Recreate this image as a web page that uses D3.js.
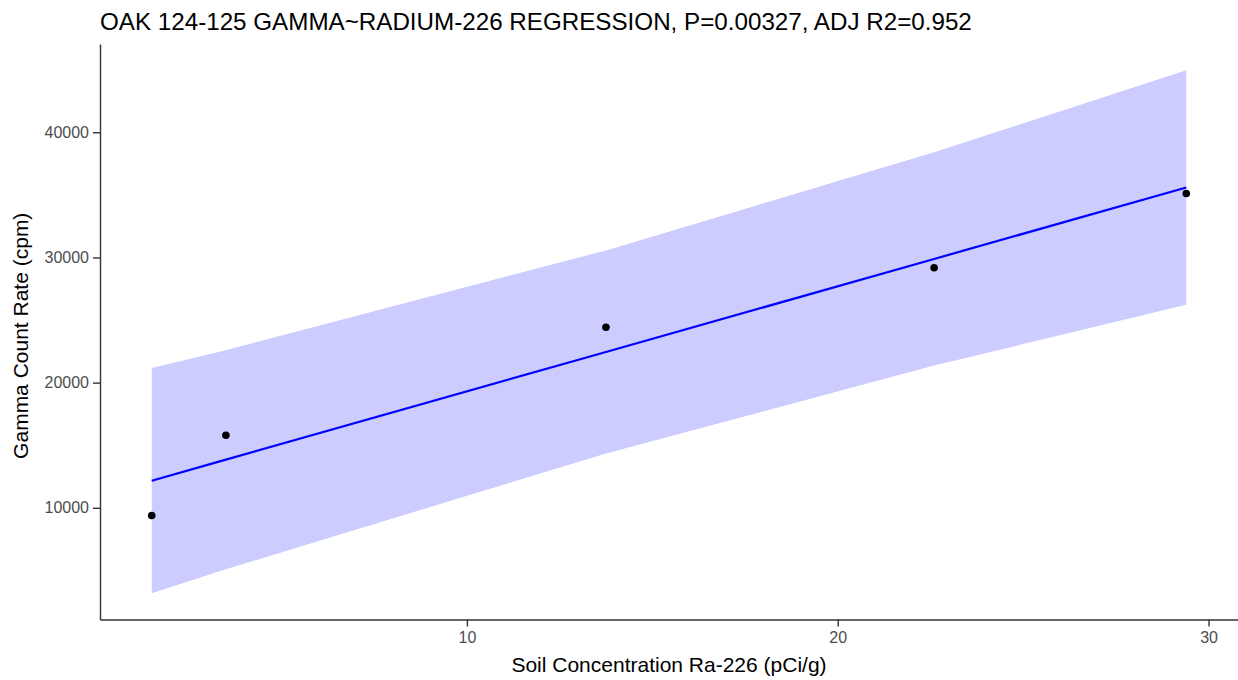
<!DOCTYPE html>
<html>
<head>
<meta charset="utf-8">
<script src="https://cdn.jsdelivr.net/npm/d3@7"></script>
<style>
  html, body { margin: 0; padding: 0; background: #ffffff; }
  svg { display: block; font-family: "Liberation Sans", Arial, sans-serif; }
</style>
</head>
<body>
<svg id="chart" width="1238" height="680"></svg>
<script>
// Soil Ra-226 concentration (pCi/g) and measured gamma count rate (cpm)
const soilConc = [1.5, 3.5, 13.75, 22.6, 29.4];
const gammaRate = [9390, 15800, 24420, 29180, 35110];

// Fitted regression line and 95% prediction band at each sample
const fitted = [12166, 13845, 22450, 29880, 35588];
const bandLower = [3166, 5095, 14337, 21361, 26213];
const bandUpper = [21166, 22595, 30563, 38399, 44963];

const xTicks = [10, 20, 30];
const yTicks = [10000, 20000, 30000, 40000];

const titleText = "OAK 124-125 GAMMA~RADIUM-226 REGRESSION, P=0.00327, ADJ R2=0.952";
const xTitle = "Soil Concentration Ra-226 (pCi/g)";
const yTitle = "Gamma Count Rate (cpm)";

const W = 1238, H = 680;
const margin = { left: 100, right: 0, top: 44, bottom: 60.5 };

const svg = d3.select("#chart");

// 5% expansion on each side of the data range
function expand([lo, hi], f = 0.05) {
  const d = (hi - lo) * f;
  return [lo - d, hi + d];
}

const xDomain = expand(d3.extent(soilConc));
const yDomain = expand([d3.min(bandLower), d3.max(bandUpper)]);

const x = d3.scaleLinear().domain(xDomain).range([margin.left, W - margin.right]);
const y = d3.scaleLinear().domain(yDomain).range([H - margin.bottom, margin.top]);

const rows = soilConc.map((v, i) => ({
  x: v, y: gammaRate[i], fit: fitted[i], lo: bandLower[i], hi: bandUpper[i]
}));

// Prediction band
svg.append("path")
  .datum(rows)
  .attr("fill", "#ccccff")
  .attr("d", d3.area().x(d => x(d.x)).y0(d => y(d.lo)).y1(d => y(d.hi)));

// Regression line
svg.append("path")
  .datum(rows)
  .attr("fill", "none")
  .attr("stroke", "#0000ff")
  .attr("stroke-width", 2.2)
  .attr("d", d3.line().x(d => x(d.x)).y(d => y(d.fit)));

// Observations
svg.append("g").selectAll("circle")
  .data(rows)
  .join("circle")
  .attr("cx", d => x(d.x))
  .attr("cy", d => y(d.y))
  .attr("r", 3.8)
  .attr("fill", "#000000");

// Axes
const xAxis = svg.append("g")
  .attr("transform", `translate(0,${H - margin.bottom})`)
  .call(d3.axisBottom(x).tickValues(xTicks).tickSize(7).tickPadding(5).tickSizeOuter(0));
const yAxis = svg.append("g")
  .attr("transform", `translate(${margin.left},0)`)
  .call(d3.axisLeft(y).tickValues(yTicks).tickFormat(d3.format("d")).tickSize(7).tickPadding(4).tickSizeOuter(0));

[xAxis, yAxis].forEach(g => {
  g.select(".domain").attr("stroke", "#333333").attr("stroke-width", 1.4);
  g.selectAll(".tick line").attr("stroke", "#333333").attr("stroke-width", 1.4);
  g.selectAll(".tick text")
    .attr("fill", "#4d4d4d")
    .style("font-size", "16px")
    .style("font-family", "'Liberation Sans', Arial, sans-serif");
});

// Titles
svg.append("text")
  .attr("x", 100)
  .attr("y", 30)
  .attr("fill", "#000000")
  .style("font-size", "24.2px")
  .text(titleText);

svg.append("text")
  .attr("x", (margin.left + W - margin.right) / 2)
  .attr("y", 672)
  .attr("text-anchor", "middle")
  .attr("fill", "#000000")
  .style("font-size", "21px")
  .text(xTitle);

svg.append("text")
  .attr("transform", `translate(28,${(margin.top + H - margin.bottom) / 2 + 4}) rotate(-90)`)
  .attr("text-anchor", "middle")
  .attr("fill", "#000000")
  .style("font-size", "21px")
  .text(yTitle);
</script>
</body>
</html>
